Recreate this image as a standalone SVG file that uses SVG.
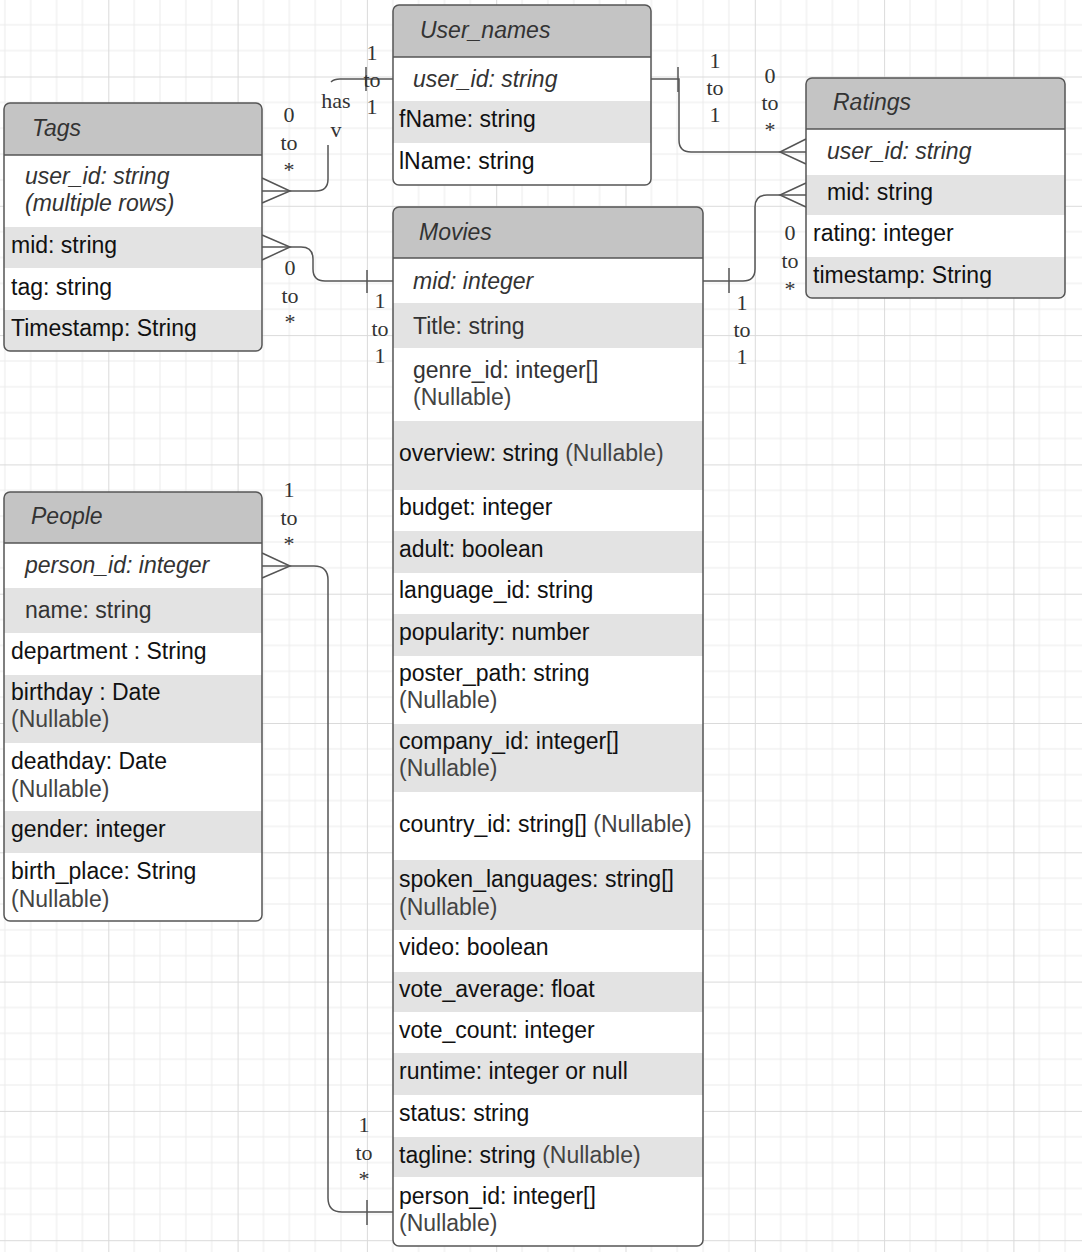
<svg xmlns="http://www.w3.org/2000/svg" width="1082" height="1252" viewBox="0 0 1082 1252">
<style>
.t{font-family:"Liberation Sans",Arial,sans-serif;font-size:23px;fill:#111}
.i{font-style:italic;fill:#333}
.d{fill:#333}
.n{fill:#444}
.h{font-family:"Liberation Sans",Arial,sans-serif;font-size:23px;font-style:italic;fill:#333}
.hd{fill:#c4c4c4}
.g{fill:#e3e3e3}
.w{fill:#ffffff}
.box{fill:none;stroke:#555;stroke-width:1.5}
.sep{stroke:#555;stroke-width:1.5}
.c{fill:none;stroke:#555;stroke-width:1.5}
.l{font-family:"Liberation Serif","Times New Roman",serif;font-size:22px;fill:#333;text-anchor:middle}
</style>
<defs>
<pattern id="grid" patternUnits="userSpaceOnUse" x="-21" y="-52.8" width="129.3" height="129.3">
<path d="M25.86,0V129.3M51.72,0V129.3M77.58,0V129.3M103.44,0V129.3M0,25.86H129.3M0,51.72H129.3M0,77.58H129.3M0,103.44H129.3" stroke="#ececec" stroke-width="1" fill="none"/>
<path d="M0.5,0V129.3M0,0.5H129.3" stroke="#dadada" stroke-width="1" fill="none"/>
</pattern>
<clipPath id="cpU"><rect x="393" y="5" width="258" height="180" rx="6"/></clipPath>
<clipPath id="cpR"><rect x="806" y="78" width="259" height="220" rx="6"/></clipPath>
<clipPath id="cpT"><rect x="4" y="103" width="258" height="248" rx="6"/></clipPath>
<clipPath id="cpM"><rect x="393" y="207" width="310" height="1039" rx="6"/></clipPath>
<clipPath id="cpP"><rect x="4" y="492" width="258" height="429" rx="6"/></clipPath>
</defs>
<rect x="0" y="0" width="1082" height="1252" fill="#ffffff"/>
<rect x="0" y="0" width="1082" height="1252" fill="url(#grid)"/>

<g id="connectors">
<path class="c" d="M393,79H340Q334,79 331,82"/>
<path class="c" d="M328,145V179Q328,191 316,191H262"/>
<path class="c" d="M262,178L290,191L262,203"/>
<path class="c" d="M366,67V91"/>
<path class="c" d="M262,247H301Q313,247 313,259V269Q313,281 325,281H393"/>
<path class="c" d="M262,235L290,247L262,260"/>
<path class="c" d="M367,270V293"/>
<path class="c" d="M651,79H679V140Q679,152 691,152H806"/>
<path class="c" d="M806,139L780,152L806,164"/>
<path class="c" d="M678,67V92"/>
<path class="c" d="M703,281H743Q755,281 755,269V207Q755,195 767,195H806"/>
<path class="c" d="M806,183L780,195L806,207"/>
<path class="c" d="M729,268V293"/>
<path class="c" d="M262,566H314Q328,566 328,580V1198Q328,1212 342,1212H393"/>
<path class="c" d="M262,553L290,566L262,578"/>
<path class="c" d="M367,1200V1225"/>
<text class="l" x="372" y="60">1</text><text class="l" x="372" y="87">to</text><text class="l" x="372" y="114">1</text>
<text class="l" x="336" y="108">has</text><text class="l" x="336" y="137">v</text>
<text class="l" x="289" y="122">0</text><text class="l" x="289" y="150">to</text><text class="l" x="289" y="177">*</text>
<text class="l" x="715" y="68">1</text><text class="l" x="715" y="95">to</text><text class="l" x="715" y="122">1</text>
<text class="l" x="770" y="83">0</text><text class="l" x="770" y="110">to</text><text class="l" x="770" y="137">*</text>
<text class="l" x="790" y="240">0</text><text class="l" x="790" y="268">to</text><text class="l" x="790" y="296">*</text>
<text class="l" x="742" y="310">1</text><text class="l" x="742" y="337">to</text><text class="l" x="742" y="364">1</text>
<text class="l" x="290" y="275">0</text><text class="l" x="290" y="303">to</text><text class="l" x="290" y="329">*</text>
<text class="l" x="380" y="308">1</text><text class="l" x="380" y="336">to</text><text class="l" x="380" y="363">1</text>
<text class="l" x="289" y="497">1</text><text class="l" x="289" y="525">to</text><text class="l" x="289" y="551">*</text>
<text class="l" x="364" y="1132">1</text><text class="l" x="364" y="1160">to</text><text class="l" x="364" y="1186">*</text>
</g>

<g id="user_names">
<g clip-path="url(#cpU)">
<rect class="hd" x="393" y="5" width="258" height="52"/>
<rect class="w" x="393" y="57" width="258" height="44"/>
<rect class="g" x="393" y="101" width="258" height="42"/>
<rect class="w" x="393" y="143" width="258" height="42"/>
</g>
<line class="sep" x1="393" y1="57" x2="651" y2="57"/>
<rect class="box" x="393" y="5" width="258" height="180" rx="6"/>
<text class="h" x="420" y="38">User_names</text>
<text class="t i" x="413" y="87">user_id: string</text>
<text class="t" x="399" y="127">fName: string</text>
<text class="t" x="399" y="169">lName: string</text>
</g>

<g id="ratings">
<g clip-path="url(#cpR)">
<rect class="hd" x="806" y="78" width="259" height="51"/>
<rect class="w" x="806" y="129" width="259" height="46"/>
<rect class="g" x="806" y="175" width="259" height="40"/>
<rect class="w" x="806" y="215" width="259" height="42"/>
<rect class="g" x="806" y="257" width="259" height="41"/>
</g>
<line class="sep" x1="806" y1="129" x2="1065" y2="129"/>
<rect class="box" x="806" y="78" width="259" height="220" rx="6"/>
<text class="h" x="833" y="110">Ratings</text>
<text class="t i" x="827" y="159">user_id: string</text>
<text class="t" x="827" y="200">mid: string</text>
<text class="t" x="813" y="241">rating: integer</text>
<text class="t" x="813" y="283">timestamp: String</text>
</g>

<g id="tags">
<g clip-path="url(#cpT)">
<rect class="hd" x="4" y="103" width="258" height="52"/>
<rect class="w" x="4" y="155" width="258" height="72"/>
<rect class="g" x="4" y="227" width="258" height="41"/>
<rect class="w" x="4" y="268" width="258" height="42"/>
<rect class="g" x="4" y="310" width="258" height="41"/>
</g>
<line class="sep" x1="4" y1="155" x2="262" y2="155"/>
<rect class="box" x="4" y="103" width="258" height="248" rx="6"/>
<text class="h" x="32" y="136">Tags</text>
<text class="t i" x="25" y="184">user_id: string</text>
<text class="t i" x="25" y="211">(multiple rows)</text>
<text class="t" x="11" y="253">mid: string</text>
<text class="t" x="11" y="295">tag: string</text>
<text class="t" x="11" y="336">Timestamp: String</text>
</g>

<g id="movies">
<g clip-path="url(#cpM)">
<rect class="hd" x="393" y="207" width="310" height="51"/>
<rect class="w" x="393" y="258" width="310" height="45"/>
<rect class="g" x="393" y="303" width="310" height="45"/>
<rect class="w" x="393" y="348" width="310" height="73"/>
<rect class="g" x="393" y="421" width="310" height="69"/>
<rect class="w" x="393" y="490" width="310" height="41"/>
<rect class="g" x="393" y="531" width="310" height="42"/>
<rect class="w" x="393" y="573" width="310" height="41"/>
<rect class="g" x="393" y="614" width="310" height="42"/>
<rect class="w" x="393" y="656" width="310" height="68"/>
<rect class="g" x="393" y="724" width="310" height="68"/>
<rect class="w" x="393" y="792" width="310" height="68"/>
<rect class="g" x="393" y="860" width="310" height="70"/>
<rect class="w" x="393" y="930" width="310" height="42"/>
<rect class="g" x="393" y="972" width="310" height="40"/>
<rect class="w" x="393" y="1012" width="310" height="41"/>
<rect class="g" x="393" y="1053" width="310" height="42"/>
<rect class="w" x="393" y="1095" width="310" height="42"/>
<rect class="g" x="393" y="1137" width="310" height="40"/>
<rect class="w" x="393" y="1177" width="310" height="69"/>
</g>
<line class="sep" x1="393" y1="258" x2="703" y2="258"/>
<rect class="box" x="393" y="207" width="310" height="1039" rx="6"/>
<text class="h" x="419" y="240">Movies</text>
<text class="t i" x="413" y="289">mid: integer</text>
<text class="t d" x="413" y="334">Title: string</text>
<text class="t d" x="413" y="378">genre_id: integer[]</text>
<text class="t n" x="413" y="405">(Nullable)</text>
<text class="t" x="399" y="461">overview: string <tspan class="n">(Nullable)</tspan></text>
<text class="t" x="399" y="515">budget: integer</text>
<text class="t" x="399" y="557">adult: boolean</text>
<text class="t" x="399" y="598">language_id: string</text>
<text class="t" x="399" y="640">popularity: number</text>
<text class="t" x="399" y="681">poster_path: string</text>
<text class="t n" x="399" y="708">(Nullable)</text>
<text class="t" x="399" y="749">company_id: integer[]</text>
<text class="t n" x="399" y="776">(Nullable)</text>
<text class="t" x="399" y="832">country_id: string[] <tspan class="n">(Nullable)</tspan></text>
<text class="t" x="399" y="887">spoken_languages: string[]</text>
<text class="t n" x="399" y="915">(Nullable)</text>
<text class="t" x="399" y="955">video: boolean</text>
<text class="t" x="399" y="997">vote_average: float</text>
<text class="t" x="399" y="1038">vote_count: integer</text>
<text class="t" x="399" y="1079">runtime: integer or null</text>
<text class="t" x="399" y="1121">status: string</text>
<text class="t" x="399" y="1163">tagline: string <tspan class="n">(Nullable)</tspan></text>
<text class="t" x="399" y="1204">person_id: integer[]</text>
<text class="t n" x="399" y="1231">(Nullable)</text>
</g>

<g id="people">
<g clip-path="url(#cpP)">
<rect class="hd" x="4" y="492" width="258" height="51"/>
<rect class="w" x="4" y="543" width="258" height="45"/>
<rect class="g" x="4" y="588" width="258" height="45"/>
<rect class="w" x="4" y="633" width="258" height="42"/>
<rect class="g" x="4" y="675" width="258" height="68"/>
<rect class="w" x="4" y="743" width="258" height="68"/>
<rect class="g" x="4" y="811" width="258" height="42"/>
<rect class="w" x="4" y="853" width="258" height="68"/>
</g>
<line class="sep" x1="4" y1="543" x2="262" y2="543"/>
<rect class="box" x="4" y="492" width="258" height="429" rx="6"/>
<text class="h" x="31" y="524">People</text>
<text class="t i" x="25" y="573">person_id: integer</text>
<text class="t d" x="25" y="618">name: string</text>
<text class="t" x="11" y="659">department : String</text>
<text class="t" x="11" y="700">birthday : Date</text>
<text class="t n" x="11" y="727">(Nullable)</text>
<text class="t" x="11" y="769">deathday: Date</text>
<text class="t n" x="11" y="797">(Nullable)</text>
<text class="t" x="11" y="837">gender: integer</text>
<text class="t" x="11" y="879">birth_place: String</text>
<text class="t n" x="11" y="907">(Nullable)</text>
</g>
</svg>
